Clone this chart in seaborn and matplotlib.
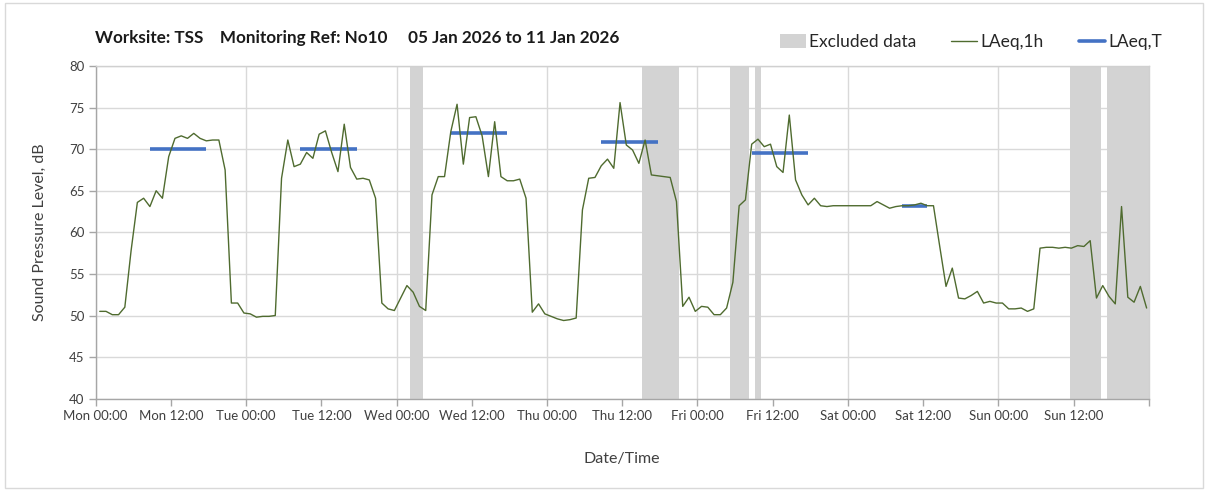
import numpy as np
import pandas as pd
import seaborn as sns
import matplotlib.pyplot as plt
from matplotlib.lines import Line2D
from matplotlib.patches import Patch, Rectangle
from matplotlib.ticker import FixedLocator, FixedFormatter

# --- Datos: LAeq,1h por día (valores horarios) ---
days = ["Mon", "Tue", "Wed", "Thu", "Fri", "Sat", "Sun"]
mon = [50.5, 50.5, 50.1, 50.1, 51.0, 57.8, 63.6, 64.1, 63.1, 65.0, 64.1, 69.1,
       71.3, 71.6, 71.3, 71.9, 71.3, 71.0, 71.1, 71.1, 67.5, 51.5, 51.5, 50.3]
tue = [50.2, 49.8, 49.9, 49.9, 50.0, 66.5, 71.1, 67.9, 68.2, 69.6, 68.9, 71.8,
       72.2, 69.6, 67.3, 73.0, 67.8, 66.4, 66.5, 66.3, 64.1, 51.5, 50.8, 50.6]
wed = [52.1, 53.6, 52.8, 51.1, 50.6, 64.5, 66.7, 66.7, 72.1, 75.4, 68.2, 73.8,
       73.9, 71.6, 66.7, 73.3, 66.7, 66.2, 66.2, 66.4, 64.1, 50.4, 51.4, 50.2]
thu = [49.9, 49.6, 49.4, 49.5, 49.7, 62.7, 66.5, 66.6, 68.0, 68.8, 67.7, 75.6,
       70.5, 69.9, 68.3, 71.1, 66.9, 66.8, 66.7, 66.6, 63.7, 51.1, 52.2, 50.5]
fri = [51.1, 51.0, 50.1, 50.1, 50.9, 54.0, 63.2, 63.9, 70.6, 71.2, 70.3, 70.6,
       67.9, 67.2, 74.1, 66.3, 64.5, 63.3, 64.1, 63.2, 63.1, 63.2, 63.2, 63.2]
sat = [63.2, 63.2, 63.2, 63.2, 63.7, 63.3, 62.9, 63.1, 63.2, 63.2, 63.3, 63.5,
       63.2, 63.2, 58.3, 53.5, 55.7, 52.1, 52.0, 52.4, 52.9, 51.5, 51.7, 51.5]
sun = [51.5, 50.8, 50.8, 50.9, 50.5, 50.8, 58.1, 58.2, 58.2, 58.1, 58.2, 58.1,
       58.4, 58.3, 59.0, 52.1, 53.6, 52.3, 51.4, 63.1, 52.2, 51.6, 53.5, 50.9]

# LAeq,T por día: (día, hora inicio, hora fin, valor)
laeq_t_day = [0, 1, 2, 3, 4, 5]
laeq_t_start = [8, 8, 8, 8, 8, 8]
laeq_t_end = [18, 18, 18, 18, 18, 13]
laeq_t_value = [70.0, 70.0, 71.9, 70.9, 69.5, 63.2]

# Periodos excluidos (horas desde Mon 00:00)
excl_start = [50.15, 87.1, 101.2, 105.2, 155.45, 161.4]
excl_end = [52.15, 93.1, 104.2, 106.2, 160.3, 168.0]

# --- Colores / estilo ---
GREEN = "#4f6b2f"
BLUE = "#4472c4"
GREY = "#d3d3d3"
TXT = "#404040"

sns.set_theme(style="whitegrid")
plt.rcParams["font.family"] = ["Lato", "DejaVu Sans"]

# --- Construir dataframes ---
values = mon + tue + wed + thu + fri + sat + sun
df = pd.DataFrame({"hour": np.arange(len(values)) + 0.65, "level": values})

rows = []
for d, s, e, v in zip(laeq_t_day, laeq_t_start, laeq_t_end, laeq_t_value):
    rows.append({"period": d, "hour": d * 24 + s + 0.65, "level": v})
    rows.append({"period": d, "hour": d * 24 + e - 0.35, "level": v})
df_t = pd.DataFrame(rows)

# --- Figura ---
fig = plt.figure(figsize=(12.08, 4.91), dpi=100)
ax = fig.add_axes([0.0792, 0.188, 0.8718, 0.6776])

for s, e in zip(excl_start, excl_end):
    ax.axvspan(s, e, color=GREY, lw=0, zorder=1)

sns.lineplot(data=df_t, x="hour", y="level", units="period", estimator=None,
             color=BLUE, lw=2.6, solid_capstyle="butt", ax=ax, zorder=3)
sns.lineplot(data=df, x="hour", y="level", color=GREEN, lw=1.0, ax=ax, zorder=4)

ax.set_xlim(0, 168)
ax.set_ylim(40, 80)
ax.set_yticks(np.arange(40, 81, 5))

major = list(range(0, 169, 24))
minor = list(range(12, 168, 24))
ax.xaxis.set_major_locator(FixedLocator(major))
ax.xaxis.set_major_formatter(FixedFormatter([f"{d} 00:00" for d in days] + [""]))
ax.xaxis.set_minor_locator(FixedLocator(minor))
ax.xaxis.set_minor_formatter(FixedFormatter([f"{d} 12:00" for d in days]))

ax.grid(axis="y", color="#d9d9d9", lw=1.0)
ax.grid(axis="x", which="major", color="#d9d9d9", lw=1.0)
ax.grid(axis="x", which="minor", visible=False)

ax.tick_params(axis="x", which="both", direction="out", length=5, width=1,
               color="#a6a6a6", labelsize=9.5, labelcolor=TXT, pad=3, bottom=True)
ax.tick_params(axis="y", direction="out", length=5, width=1, color="#a6a6a6",
               labelsize=9.5, labelcolor=TXT, pad=3, left=True)

for side in ["top", "right"]:
    ax.spines[side].set_color("#d0d0d0")
for side in ["left", "bottom"]:
    ax.spines[side].set_color("#a6a6a6")
for sp in ax.spines.values():
    sp.set_linewidth(1.0)

ax.set_xlabel("Date/Time", fontsize=11.5, color=TXT, labelpad=22)
ax.set_ylabel("Sound Pressure Level, dB", fontsize=11.5, color=TXT, labelpad=16)

fig.text(95 / 1208, 1 - 38 / 491,
         "Worksite: TSS    Monitoring Ref: No10     05 Jan 2026 to 11 Jan 2026",
         fontsize=12.3, fontweight="bold", color="#1a1a1a", va="center", ha="left")

handles = [Patch(facecolor=GREY, edgecolor="none"),
           Line2D([], [], color=GREEN, lw=1.0),
           Line2D([], [], color=BLUE, lw=2.6)]
fig.legend(handles, ["Excluded data", "LAeq,1h", "LAeq,T"], ncol=3,
           loc="center right", bbox_to_anchor=(1174 / 1208, 1 - 42 / 491),
           frameon=False, fontsize=12.5, handlelength=1.5, handleheight=0.8,
           handletextpad=0.2, columnspacing=2.0, labelcolor="#262626",
           borderpad=0.2)

# borde exterior
fig.add_artist(Rectangle((5 / 1208, 3 / 491), 1198 / 1208, 485 / 491,
                         transform=fig.transFigure, fill=False,
                         edgecolor="#d9d9d9", lw=1.0))

fig.savefig("out.png", dpi=100)
